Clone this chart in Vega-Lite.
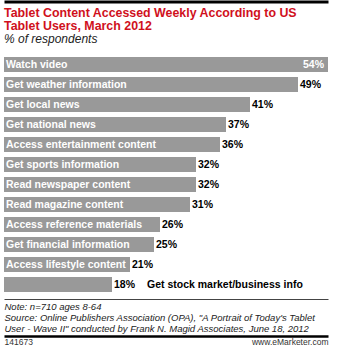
{
  "$schema": "https://vega.github.io/schema/vega-lite/v6.json",
  "padding": {"left": 3, "top": 0, "right": 0, "bottom": 0},
  "background": "white",
  "config": {"view": {"stroke": null}, "font": "Liberation Sans"},
  "spacing": 5,
  "vconcat": [
    {
      "width": 324,
      "height": 1.5,
      "data": {"values": [{"v": 0}]},
      "mark": {"type": "point", "opacity": 0, "size": 1},
      "encoding": {
        "x": {"field": "v", "type": "quantitative", "scale": {"domain": [0, 1]},
          "axis": {"domainColor": "#000", "domainWidth": 3, "ticks": false, "labels": false, "grid": false, "title": null}}
      }
    },
    {
      "width": 324,
      "height": 235,
      "title": {
        "text": ["Tablet Content Accessed Weekly According to US", "Tablet Users, March 2012"],
        "subtitle": "% of respondents",
        "anchor": "start",
        "frame": "group",
        "font": "Liberation Sans",
        "fontSize": 12.4,
        "fontWeight": "bold",
        "color": "#d0101c",
        "lineHeight": 12.5,
        "subtitleFont": "Liberation Sans",
        "subtitleFontSize": 12,
        "subtitleFontStyle": "italic",
        "subtitleColor": "#222",
        "subtitlePadding": 2,
        "offset": 12
      },
      "data": {"values": [
        {"content": "Watch video", "share": 0.54},
        {"content": "Get weather information", "share": 0.49},
        {"content": "Get local news", "share": 0.41},
        {"content": "Get national news", "share": 0.37},
        {"content": "Access entertainment content", "share": 0.36},
        {"content": "Get sports information", "share": 0.32},
        {"content": "Read newspaper content", "share": 0.32},
        {"content": "Read magazine content", "share": 0.31},
        {"content": "Access reference materials", "share": 0.26},
        {"content": "Get financial information", "share": 0.25},
        {"content": "Access lifestyle content", "share": 0.21},
        {"content": "Get stock market/business info", "share": 0.18}
      ]},
      "resolve": {"scale": {"x": "independent"}, "axis": {"x": "independent"}},
      "layer": [
        {
          "layer": [
            {
              "mark": {"type": "bar", "color": "#999999"},
              "encoding": {
                "x": {"field": "share", "type": "quantitative", "scale": {"domain": [0, 0.54], "nice": false},
                  "axis": {"orient": "bottom", "offset": 7, "domainColor": "#444", "domainWidth": 1, "ticks": false, "labels": false, "grid": false,
                    "title": ["Note: n=710 ages 8-64", "Source: Online Publishers Association (OPA), \"A Portrait of Today's Tablet", "User - Wave II\" conducted by Frank N. Magid Associates, June 18, 2012"],
                    "titleFont": "Liberation Sans", "titleFontStyle": "italic", "titleFontWeight": "normal", "titleFontSize": 9.5, "titleLineHeight": 11.2,
                    "titleColor": "#222", "titleAnchor": "start", "titleAlign": "left", "titlePadding": 2}},
                "y": {"field": "content", "type": "nominal", "sort": null, "axis": null,
                  "scale": {"paddingInner": 0.25, "paddingOuter": 0}}
              }
            },
            {
              "transform": [{"filter": "datum.share >= 0.2"}],
              "mark": {"type": "text", "align": "left", "baseline": "middle", "dx": 2, "color": "white", "fontWeight": "bold", "fontSize": 10.5},
              "encoding": {
                "x": {"datum": 0, "type": "quantitative"},
                "y": {"field": "content", "type": "nominal", "sort": null},
                "text": {"field": "content"}
              }
            },
            {
              "transform": [{"filter": "datum.share < 0.2"}],
              "mark": {"type": "text", "align": "left", "baseline": "middle", "dx": 35, "color": "black", "fontWeight": "bold", "fontSize": 10.5},
              "encoding": {
                "x": {"field": "share", "type": "quantitative"},
                "y": {"field": "content", "type": "nominal", "sort": null},
                "text": {"field": "content"}
              }
            },
            {
              "transform": [{"filter": "datum.share < 0.5"}],
              "mark": {"type": "text", "align": "left", "baseline": "middle", "dx": 2, "color": "black", "fontWeight": "bold", "fontSize": 10.5},
              "encoding": {
                "x": {"field": "share", "type": "quantitative"},
                "y": {"field": "content", "type": "nominal", "sort": null},
                "text": {"field": "share", "type": "quantitative", "format": ".0%"}
              }
            },
            {
              "transform": [{"filter": "datum.share >= 0.5"}],
              "mark": {"type": "text", "align": "right", "baseline": "middle", "dx": -4, "color": "white", "fontWeight": "bold", "fontSize": 10.5},
              "encoding": {
                "x": {"field": "share", "type": "quantitative"},
                "y": {"field": "content", "type": "nominal", "sort": null},
                "text": {"field": "share", "type": "quantitative", "format": ".0%"}
              }
            }
          ]
        },
        {
          "data": {"values": [{"f": 0}, {"f": 1}]},
          "mark": {"type": "point", "opacity": 0, "size": 1},
          "encoding": {
            "x": {"field": "f", "type": "quantitative", "scale": {"domain": [0, 1], "nice": false},
              "axis": {"orient": "bottom", "offset": 44, "domainColor": "#000", "domainWidth": 2.5, "ticks": false, "grid": false, "title": null,
                "values": [0, 1], "labelExpr": "datum.value == 0 ? '141673' : 'www.eMarketer.com'", "labelFlush": true,
                "labelFont": "Liberation Sans", "labelFontSize": 8.5, "labelColor": "#333", "labelPadding": 1}}
          }
        }
      ]
    }
  ]
}
